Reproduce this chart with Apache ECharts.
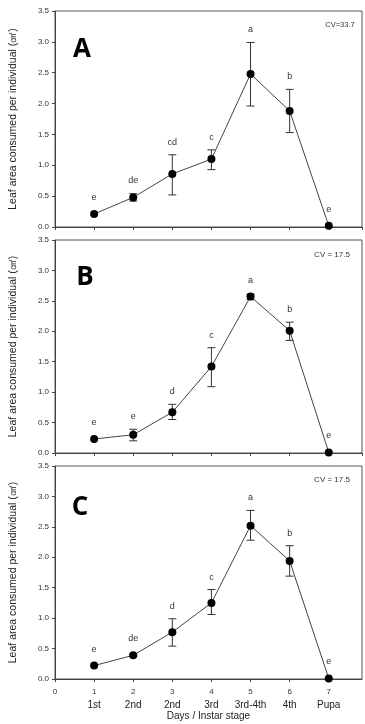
<!DOCTYPE html>
<html>
<head>
<meta charset="utf-8">
<script src="https://cdn.jsdelivr.net/npm/echarts@6/dist/echarts.min.js"></script>
<style>
html,body{margin:0;padding:0;background:#fff;}
#c{width:365px;height:724px;}
</style>
</head>
<body>
<div id="c"></div>
<script>
const days = [1, 2, 3, 4, 5, 6, 7];
const stageNames = ['1st', '2nd', '2nd', '3rd', '3rd-4th', '4th', 'Pupa'];
const yTicks = [0, 0.5, 1.0, 1.5, 2.0, 2.5, 3.0, 3.5];

const aMean = [0.21, 0.48, 0.86, 1.10, 2.48, 1.88, 0.02];
const aLow  = [0.21, 0.42, 0.52, 0.93, 1.96, 1.53, 0.02];
const aHigh = [0.21, 0.54, 1.17, 1.25, 2.99, 2.23, 0.02];
const aLetters = ['e', 'de', 'cd', 'c', 'a', 'b', 'e'];

const bMean = [0.23, 0.30, 0.67, 1.42, 2.57, 2.01, 0.01];
const bLow  = [0.23, 0.20, 0.55, 1.09, 2.52, 1.85, 0.01];
const bHigh = [0.23, 0.39, 0.80, 1.73, 2.61, 2.15, 0.01];
const bLetters = ['e', 'e', 'd', 'c', 'a', 'b', 'e'];

const cMean = [0.22, 0.39, 0.77, 1.25, 2.52, 1.94, 0.01];
const cLow  = [0.22, 0.37, 0.54, 1.06, 2.28, 1.69, 0.01];
const cHigh = [0.22, 0.41, 0.99, 1.47, 2.77, 2.19, 0.01];
const cLetters = ['e', 'de', 'd', 'c', 'a', 'b', 'e'];

const panelLetters = ['A', 'B', 'C'];
const cvTexts = ['CV=33.7', 'CV = 17.5', 'CV = 17.5'];
const yName = 'Leaf area consumed per individual (㎠)';
const xName = 'Days / Instar stage';

const panels = [
  {mean: aMean, low: aLow, high: aHigh, letters: aLetters},
  {mean: bMean, low: bLow, high: bHigh, letters: bLetters},
  {mean: cMean, low: cLow, high: cHigh, letters: cLetters}
];

const FONT = '"Liberation Sans", Arial, sans-serif';
const gridTops = [11, 240, 466];
const gridH = [216, 213, 213];

const grids = [], xAxes = [], yAxes = [], series = [];
panels.forEach((p, i) => {
  grids.push({left: 53, right: 3, top: gridTops[i], height: gridH[i], show: true,
    borderColor: '#555', borderWidth: 1, containLabel: false});
  const last = i === 2;
  xAxes.push({
    type: 'value', gridIndex: i, min: 0, max: 7.85, interval: 1,
    axisLine: {show: true, onZero: false, lineStyle: {color: '#444', width: 1}},
    axisTick: {show: true, inside: false, length: 3, lineStyle: {color: '#444'}},
    splitLine: {show: false},
    axisLabel: last ? {
      show: true, margin: 7, showMaxLabel: false,
      formatter: v => {
        if (Math.abs(v - Math.round(v)) > 1e-6) return '';
        if (v === 0) return '{n|0}';
        return '{n|' + v + '}\n{s|' + (stageNames[v - 1] || '') + '}';
      },
      rich: {
        n: {fontSize: 8, fontFamily: FONT, color: '#333', lineHeight: 11},
        s: {fontSize: 10, fontFamily: FONT, color: '#222', lineHeight: 17}
      }
    } : {show: false},
    name: last ? xName : '', nameLocation: 'middle', nameGap: 31,
    nameTextStyle: {fontSize: 10, fontFamily: FONT, color: '#222'}
  });
  yAxes.push({
    type: 'value', gridIndex: i, min: 0, max: 3.5, interval: 0.5,
    axisLine: {show: true, lineStyle: {color: '#444', width: 1}},
    axisTick: {show: true, inside: false, length: 3, lineStyle: {color: '#444'}},
    splitLine: {show: false},
    axisLabel: {fontSize: 8, fontFamily: FONT, color: '#333', margin: 6,
      formatter: v => (yTicks.indexOf(v) >= 0 ? v.toFixed(1) : '')},
    name: yName, nameLocation: 'middle', nameGap: 36, nameRotate: 90,
    nameTextStyle: {fontSize: 10.5, fontFamily: FONT, color: '#222'}
  });
  series.push({
    type: 'custom', xAxisIndex: i, yAxisIndex: i, z: 2,
    data: days.map((d, k) => [d, p.low[k], p.high[k], p.mean[k]]),
    renderItem: (params, api) => {
      const x = api.value(0), lo = api.value(1), hi = api.value(2), m = api.value(3);
      const pLo = api.coord([x, lo]), pHi = api.coord([x, hi]), pM = api.coord([x, m]);
      const ch = [];
      const st = {stroke: '#333', lineWidth: 1};
      if (hi - lo > 1e-6) {
        ch.push({type: 'line', shape: {x1: pLo[0], y1: pLo[1], x2: pHi[0], y2: pHi[1]}, style: st});
        ch.push({type: 'line', shape: {x1: pLo[0] - 4, y1: pLo[1], x2: pLo[0] + 4, y2: pLo[1]}, style: st});
        ch.push({type: 'line', shape: {x1: pHi[0] - 4, y1: pHi[1], x2: pHi[0] + 4, y2: pHi[1]}, style: st});
      }
      const top = Math.min(pHi[1], pM[1] - 4);
      ch.push({type: 'text', style: {x: pM[0], y: top - 8, text: p.letters[params.dataIndex],
        align: 'center', verticalAlign: 'bottom', fontSize: 9, fontFamily: FONT, fill: '#333'}});
      return {type: 'group', children: ch};
    }
  });
  series.push({
    type: 'line', xAxisIndex: i, yAxisIndex: i, z: 3,
    data: days.map((d, k) => [d, p.mean[k]]),
    symbol: 'circle', symbolSize: 8,
    itemStyle: {color: '#000'},
    lineStyle: {color: '#444', width: 1},
    animation: false
  });
});

const graphics = [];
const letterPos = [[82, 50], [85, 278], [80, 508]];
const cvPos = [[340, 25], [332, 255], [332, 480]];
panelLetters.forEach((L, i) => {
  graphics.push({type: 'text', x: letterPos[i][0], y: letterPos[i][1],
    style: {text: L, fontSize: 26, fontWeight: 'bold', fontFamily: '"Open Sans", "Liberation Sans", sans-serif',
      fill: '#000', align: 'center', verticalAlign: 'middle'}});
  graphics.push({type: 'text', x: cvPos[i][0], y: cvPos[i][1],
    style: {text: cvTexts[i], fontSize: i === 0 ? 7.5 : 8, fontFamily: FONT,
      fill: '#333', align: 'center', verticalAlign: 'middle'}});
});

const chart = echarts.init(document.getElementById('c'), null, {renderer: 'canvas'});
chart.setOption({
  animation: false,
  backgroundColor: '#fff',
  grid: grids, xAxis: xAxes, yAxis: yAxes, series: series, graphic: graphics
});
</script>
</body>
</html>
